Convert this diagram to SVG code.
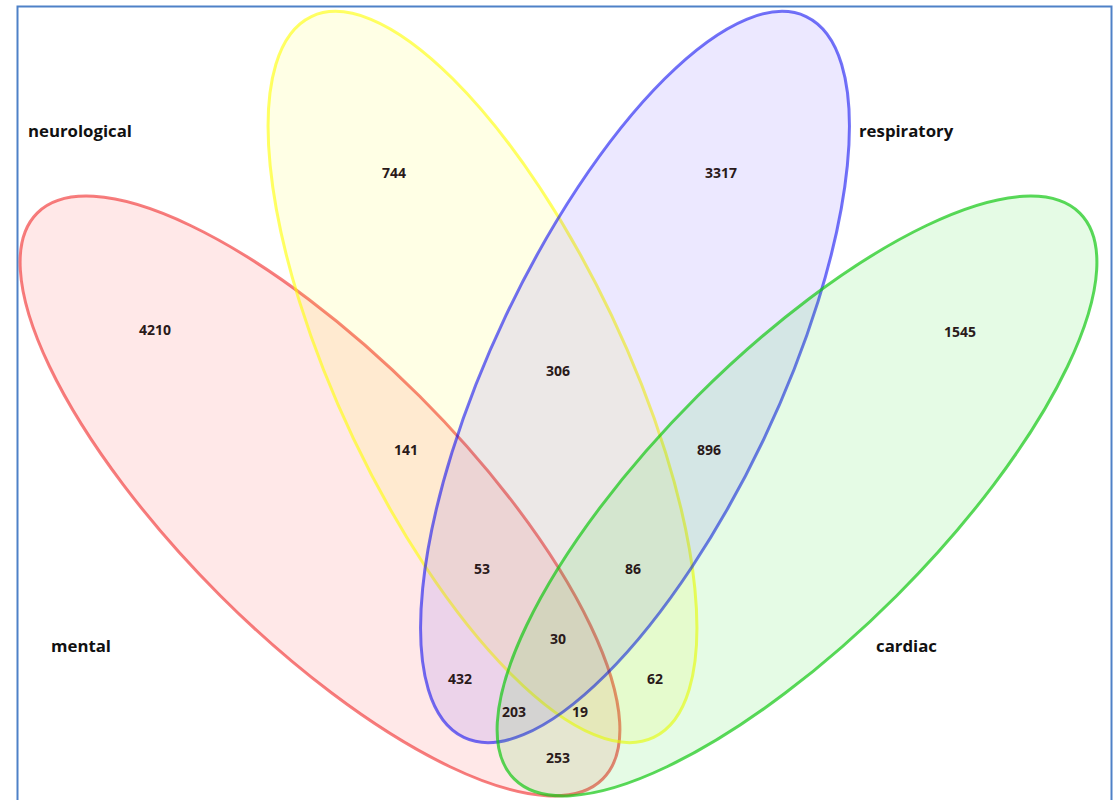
<svg xmlns="http://www.w3.org/2000/svg" width="1117" height="800" viewBox="0 0 1117 800">
<style>
.set{stroke-width:3}
.lbl{font-family:"Open Sans","Noto Sans",sans-serif;font-weight:bold;font-size:16.8px;fill:#111}
.num{font-family:"Open Sans","Noto Sans",sans-serif;font-weight:bold;font-size:14px;fill:#2a1a1a;text-anchor:middle;dominant-baseline:central}
</style>
<rect x="0" y="0" width="1117" height="800" fill="#fff"/>
<rect x="17.5" y="6.5" width="1094" height="800" fill="none" stroke="#4f81c7" stroke-width="2"/>
<g id="mental"><ellipse class="set" cx="320" cy="496" rx="400" ry="141" transform="rotate(45 320 496)" fill="rgba(255,0,0,0.09)" stroke="rgba(240,40,40,0.6)"/></g>
<g id="neurological"><ellipse class="set" cx="482.5" cy="377" rx="399" ry="143" transform="rotate(64.6 482.5 377)" fill="rgba(255,255,0,0.1)" stroke="rgba(255,255,0,0.6)"/></g>
<g id="respiratory"><ellipse class="set" cx="635" cy="377" rx="399" ry="143" transform="rotate(-64.6 635 377)" fill="rgba(40,0,255,0.09)" stroke="rgba(0,0,240,0.55)"/></g>
<g id="cardiac"><ellipse class="set" cx="797" cy="496" rx="400" ry="141" transform="rotate(-45 797 496)" fill="rgba(0,220,0,0.1)" stroke="rgba(20,200,20,0.7)"/></g>
<g id="labels">
<text class="lbl" x="28" y="137">neurological</text>
<text class="lbl" x="859" y="137">respiratory</text>
<text class="lbl" x="51" y="652">mental</text>
<text class="lbl" x="876" y="652">cardiac</text>
</g>
<g id="counts">
<text class="num" x="394" y="172">744</text>
<text class="num" x="721" y="172">3317</text>
<text class="num" x="155" y="329">4210</text>
<text class="num" x="960" y="331">1545</text>
<text class="num" x="558" y="370">306</text>
<text class="num" x="406" y="449">141</text>
<text class="num" x="709" y="449">896</text>
<text class="num" x="482" y="568">53</text>
<text class="num" x="633" y="568">86</text>
<text class="num" x="558" y="638">30</text>
<text class="num" x="460" y="678">432</text>
<text class="num" x="655" y="678">62</text>
<text class="num" x="514" y="711">203</text>
<text class="num" x="580" y="711">19</text>
<text class="num" x="558" y="757">253</text>
</g>
</svg>
